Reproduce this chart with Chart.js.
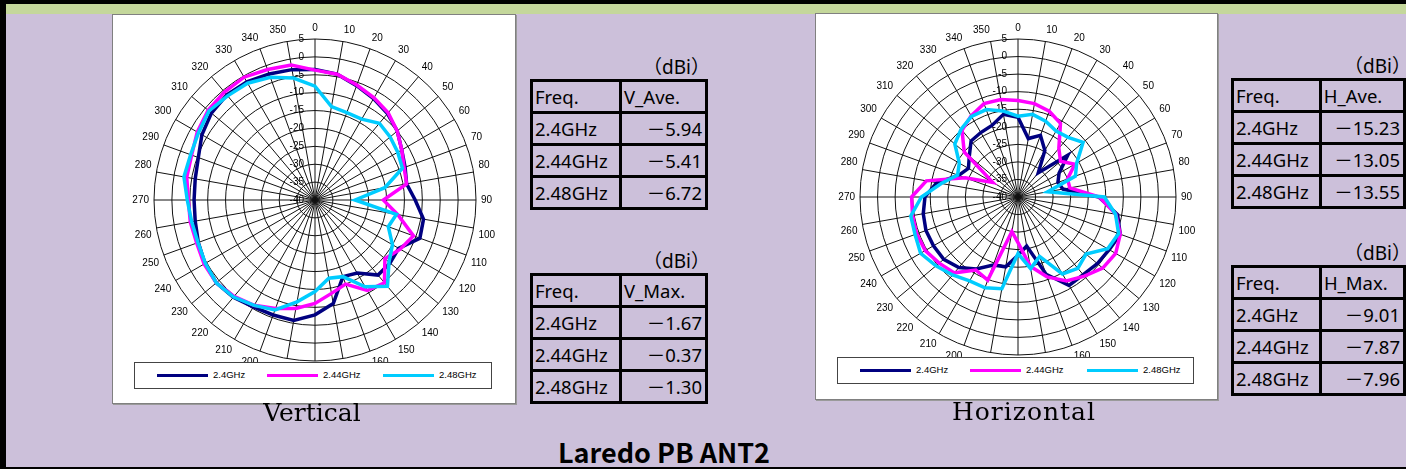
<!DOCTYPE html>
<html>
<head>
<meta charset="utf-8">
<script src="https://cdn.jsdelivr.net/npm/chart.js@4.4.1/dist/chart.umd.min.js"></script>
<style>
body { margin: 0; background: #fff; }
#page { position: relative; width: 1406px; height: 469px; overflow: hidden; background: #ccc0da; }
.bar { position: absolute; }
.box { position: absolute; background: #fff; border: 1px solid #808080; box-sizing: border-box; box-shadow: 1px 1px 0 #9a9a9a; }
canvas { position: absolute; }
.legend-box { position: absolute; background: #fff; border: 1px solid #444; box-sizing: border-box; }
.legend-line { position: absolute; height: 3px; }
.legend-label { position: absolute; font: 9.5px Arial, "Liberation Sans", sans-serif; color: #000; line-height: 12px; }
.caption { position: absolute; font-family: "DejaVu Serif", serif; font-size: 25px; line-height: 25px; color: #000; text-align: center; }
.title { position: absolute; font-family: "Noto Sans CJK JP", sans-serif; font-weight: bold; font-size: 27px; line-height: 27px; text-align: center; }
.unit { position: absolute; font-family: "Noto Sans", "Noto Sans CJK JP", sans-serif; font-size: 19px; line-height: 20px; text-align: right; width: 112px; }
table.vals { position: absolute; border-collapse: collapse; font-family: "Noto Sans", "Noto Sans CJK JP", sans-serif; font-size: 18.5px; }
table.vals td { border: 3px solid #000; height: 29px; padding: 0 3px 0 2px; line-height: 20px; vertical-align: middle; white-space: nowrap; }
table.vals td.c1 { width: 81px; }
table.vals td.c2 { width: 78px; }
table.vals td.num { text-align: right; }
</style>
</head>
<body>
<div id="page">
  <div class="bar" style="left:0;top:0;width:1406px;height:4px;background:#000"></div>
  <div class="bar" style="left:6px;top:4px;width:1400px;height:10px;background:#c4d79b"></div>
  <div class="bar" style="left:0;top:0;width:6px;height:469px;background:#000"></div>
  <div class="bar" style="left:0;top:467px;width:1406px;height:2px;background:#000"></div>

  <div class="box" style="left:112px;top:14px;width:404px;height:390px"></div>
  <canvas id="chartV" width="404" height="390" style="left:112px;top:14px"></canvas>
  <div class="legend-box" id="legendV" style="left:134px;top:362px;width:358px;height:27px"></div>

  <div class="box" style="left:815px;top:13px;width:403px;height:387px"></div>
  <canvas id="chartH" width="403" height="387" style="left:815px;top:13px"></canvas>
  <div class="legend-box" id="legendH" style="left:837px;top:357px;width:357px;height:27px"></div>

  <div class="caption" style="left:212px;top:400px;width:200px">Vertical</div>
  <div class="caption" style="left:924px;top:399px;width:200px;letter-spacing:1px">Horizontal</div>
  <div class="title" style="left:514px;top:438px;width:300px">Laredo PB ANT2</div>
</div>

<script>
// angle categories (degrees, clockwise from top)
const angleLabels = ['0','10','20','30','40','50','60','70','80','90','100','110',
  '120','130','140','150','160','170','180','190','200','210','220','230',
  '240','250','260','270','280','290','300','310','320','330','340','350'];
// radial tick labels (dBi)
const radialTicks = [5, 0, -5, -10, -15, -20, -25, -30, -35, -40];

const freqLabels = ['2.4GHz', '2.44GHz', '2.48GHz'];
const lineColors = ['#000080', '#ff00ff', '#00ccff'];

// Vertical pattern (dBi)
const v24  = [-3.5,-4.3,-6.0,-7.3,-8.5,-10.0,-12.0,-13.2,-14.0,-12.0,-9.2,-8.8,
  -13.0,-12.6,-12.6,-16.4,-17.2,-10.6,-7.9,-5.8,-5.8,-5.5,-4.5,-4.0,
  -4.5,-5.3,-6.0,-6.2,-6.0,-5.3,-3.5,-2.2,-1.67,-1.9,-2.5,-3.0];
const v244 = [-3.7,-4.3,-5.8,-7.0,-8.2,-10.0,-12.0,-13.5,-14.0,-20.9,-16.5,-10.7,
  -12.5,-14.5,-9.8,-10.8,-15.0,-13.5,-11.1,-9.2,-7.7,-6.0,-4.8,-4.0,
  -4.2,-4.8,-4.6,-4.6,-3.6,-3.3,-2.0,-1.0,-0.6,-0.37,-1.2,-1.7];
const v248 = [-8.2,-13.5,-14.0,-13.9,-12.0,-12.6,-13.3,-14.0,-20.2,-28.8,-16.9,-18.2,
  -15.0,-13.0,-8.5,-12.0,-17.2,-17.8,-14.4,-11.1,-7.3,-6.0,-4.6,-4.0,
  -4.6,-5.2,-5.0,-4.3,-2.8,-3.0,-2.4,-1.3,-2.0,-2.3,-3.5,-5.4];

// Horizontal pattern (dBi)
const h24  = [-17.3,-23.1,-21.3,-24.7,-31.0,-21.5,-26.5,-27.9,-27.0,-17.0,-11.2,-9.01,
  -10.0,-10.5,-11.1,-10.9,-16.6,-25.8,-23.4,-19.8,-19.4,-16.3,-13.8,-12.4,
  -12.2,-12.1,-12.6,-13.5,-16.5,-22.0,-23.7,-21.9,-19.2,-18.8,-18.3,-16.1];
const h244 = [-12.5,-13.0,-14.0,-15.8,-21.9,-24.2,-21.3,-25.0,-25.0,-16.8,-11.7,-9.0,
  -7.87,-8.5,-10.6,-12.4,-15.8,-20.0,-27.0,-30.0,-14.8,-16.0,-11.8,-10.7,
  -9.5,-9.3,-9.5,-9.7,-13.5,-24.0,-31.7,-20.0,-15.2,-13.3,-11.7,-11.8];
const h248 = [-17.0,-16.1,-17.0,-18.3,-17.8,-15.8,-20.7,-22.6,-31.4,-15.4,-11.8,-9.5,
  -10.5,-14.7,-13.5,-14.7,-22.0,-19.3,-23.9,-13.5,-12.5,-12.4,-11.0,-9.5,
  -7.96,-8.8,-9.0,-12.5,-17.8,-21.7,-20.7,-16.5,-14.8,-13.5,-13.5,-15.1];

// summary tables
const vAve = ['－5.94', '－5.41', '－6.72'];
const vMax = ['－1.67', '－0.37', '－1.30'];
const hAve = ['－15.23', '－13.05', '－13.55'];
const hMax = ['－9.01', '－7.87', '－7.96'];

Chart.defaults.font.family = 'Arial, "Liberation Sans", sans-serif';
Chart.defaults.color = '#000';

// radial tick labels, right aligned just left of the 0 degree axis
const tickLabelPlugin = {
  id: 'tickLabels',
  beforeDatasetsDraw(chart) {
    const r = chart.scales.r;
    const ctx = chart.ctx;
    ctx.save();
    ctx.font = '10px Arial, "Liberation Sans", sans-serif';
    ctx.fillStyle = '#000';
    ctx.textAlign = 'right';
    ctx.textBaseline = 'middle';
    radialTicks.forEach(v => {
      const y = r.yCenter - r.getDistanceFromCenterForValue(v);
      ctx.fillText(String(v), r.xCenter - 11, y);
    });
    ctx.restore();
  }
};

function makePolar(id, series, padding) {
  return new Chart(document.getElementById(id), {
    type: 'radar',
    data: {
      labels: angleLabels,
      datasets: series.map((s, i) => ({
        label: freqLabels[i],
        data: s,
        borderColor: lineColors[i],
        backgroundColor: lineColors[i],
        borderWidth: 3.5,
        pointRadius: 0,
        fill: false,
        order: 2 - i
      }))
    },
    options: {
      responsive: false,
      animation: false,
      layout: { padding: padding },
      plugins: { legend: { display: false }, tooltip: { enabled: false } },
      scales: {
        r: {
          min: -40,
          max: 5,
          ticks: { display: false, stepSize: 5 },
          grid: { circular: true, color: '#111', lineWidth: 1 },
          angleLines: { color: '#111', lineWidth: 1 },
          pointLabels: { color: '#000', font: { size: 10 }, padding: 5 }
        }
      }
    },
    plugins: [tickLabelPlugin]
  });
}

makePolar('chartV', [v24, v244, v248], { left: 17, top: 8, right: 17, bottom: 26 });
makePolar('chartH', [h24, h244, h248], { left: 20, top: 9, right: 19, bottom: 28 });

// custom legend
function createLegend(id, offsets) {
  const box = document.getElementById(id);
  freqLabels.forEach((label, i) => {
    const line = document.createElement('div');
    line.className = 'legend-line';
    line.style.left = offsets[i] + 'px';
    line.style.top = '11px';
    line.style.width = '51px';
    line.style.background = lineColors[i];
    const text = document.createElement('span');
    text.className = 'legend-label';
    text.style.left = (offsets[i] + 56) + 'px';
    text.style.top = '6px';
    text.textContent = label;
    box.appendChild(line);
    box.appendChild(text);
  });
}
createLegend('legendV', [22, 132, 248]);
createLegend('legendH', [22, 132, 249]);

// value tables
function createTable(left, top, header, values) {
  const page = document.getElementById('page');
  const unit = document.createElement('div');
  unit.className = 'unit';
  unit.style.left = (left + 68) + 'px';
  unit.style.top = (top - 22) + 'px';
  unit.textContent = '（dBi）';
  page.appendChild(unit);

  const table = document.createElement('table');
  table.className = 'vals';
  table.style.left = left + 'px';
  table.style.top = top + 'px';
  const rows = [['Freq.', header]].concat(freqLabels.map((f, i) => [f, values[i]]));
  rows.forEach((r, ri) => {
    const tr = document.createElement('tr');
    const a = document.createElement('td');
    a.className = 'c1';
    a.textContent = r[0];
    const b = document.createElement('td');
    b.className = 'c2' + (ri > 0 ? ' num' : '');
    b.textContent = r[1];
    tr.appendChild(a);
    tr.appendChild(b);
    table.appendChild(tr);
  });
  page.appendChild(table);
}
createTable(530, 79, 'V_Ave.', vAve);
createTable(530, 273, 'V_Max.', vMax);
createTable(1231, 78, 'H_Ave.', hAve);
createTable(1231, 265, 'H_Max.', hMax);
</script>
</body>
</html>
